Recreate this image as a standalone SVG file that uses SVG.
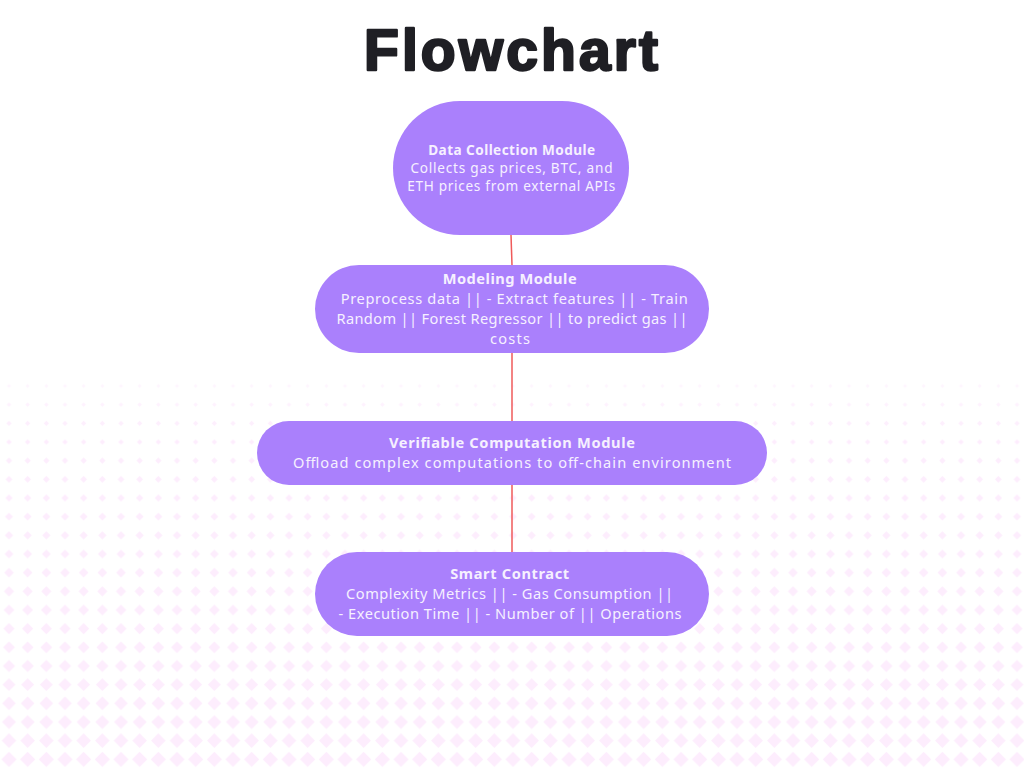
<svg xmlns="http://www.w3.org/2000/svg" width="1024" height="768" viewBox="0 0 1024 768">
<defs>
<style>
.node{fill:#aa80fc}
.t{font-family:"Noto Sans","Open Sans",sans-serif;font-size:14.6px;fill:#f6f0ff;text-anchor:middle}
.s{font-size:13.6px}
.b{font-weight:bold}
.edge{stroke:#ef5a5a;stroke-width:1.5;fill:none}
.title{font-family:"Liberation Sans",Arial,sans-serif;font-weight:bold;font-size:57px;fill:#1f1f24;stroke:#1f1f24;stroke-width:2.4;stroke-linejoin:round;text-anchor:middle}
.bg{fill:#fdedfd}
</style>
<path id="d" d="M0,-1 L1,0 L0,1 L-1,0Z"/>
<pattern id="p0" x="-0.335" y="376.665" width="18.667" height="18.667" patternUnits="userSpaceOnUse"><use href="#d" class="bg" transform="translate(9.335 9.335) scale(2.0)"/></pattern>
<pattern id="p1" x="-0.335" y="395.33" width="18.667" height="18.667" patternUnits="userSpaceOnUse"><use href="#d" class="bg" transform="translate(9.335 9.335) scale(2.3)"/></pattern>
<pattern id="p2" x="-0.335" y="414.0" width="18.667" height="18.667" patternUnits="userSpaceOnUse"><use href="#d" class="bg" transform="translate(9.335 9.335) scale(2.6)"/></pattern>
<pattern id="p3" x="-0.335" y="432.67" width="18.667" height="18.667" patternUnits="userSpaceOnUse"><use href="#d" class="bg" transform="translate(9.335 9.335) scale(2.8)"/></pattern>
<pattern id="p4" x="-0.335" y="451.33" width="18.667" height="18.667" patternUnits="userSpaceOnUse"><use href="#d" class="bg" transform="translate(9.335 9.335) scale(3.1)"/></pattern>
<pattern id="p5" x="-0.335" y="470.0" width="18.667" height="18.667" patternUnits="userSpaceOnUse"><use href="#d" class="bg" transform="translate(9.335 9.335) scale(3.4)"/></pattern>
<pattern id="p6" x="-0.335" y="488.67" width="18.667" height="18.667" patternUnits="userSpaceOnUse"><use href="#d" class="bg" transform="translate(9.335 9.335) scale(3.7)"/></pattern>
<pattern id="p7" x="-0.335" y="507.33" width="18.667" height="18.667" patternUnits="userSpaceOnUse"><use href="#d" class="bg" transform="translate(9.335 9.335) scale(4.0)"/></pattern>
<pattern id="p8" x="-0.335" y="526.0" width="18.667" height="18.667" patternUnits="userSpaceOnUse"><use href="#d" class="bg" transform="translate(9.335 9.335) scale(4.2)"/></pattern>
<pattern id="p9" x="-0.335" y="544.67" width="18.667" height="18.667" patternUnits="userSpaceOnUse"><use href="#d" class="bg" transform="translate(9.335 9.335) scale(4.5)"/></pattern>
<pattern id="p10" x="-0.335" y="563.33" width="18.667" height="18.667" patternUnits="userSpaceOnUse"><use href="#d" class="bg" transform="translate(9.335 9.335) scale(4.8)"/></pattern>
<pattern id="p11" x="-0.335" y="582.0" width="18.667" height="18.667" patternUnits="userSpaceOnUse"><use href="#d" class="bg" transform="translate(9.335 9.335) scale(5.1)"/></pattern>
<pattern id="p12" x="-0.335" y="600.67" width="18.667" height="18.667" patternUnits="userSpaceOnUse"><use href="#d" class="bg" transform="translate(9.335 9.335) scale(5.4)"/></pattern>
<pattern id="p13" x="-0.335" y="619.33" width="18.667" height="18.667" patternUnits="userSpaceOnUse"><use href="#d" class="bg" transform="translate(9.335 9.335) scale(5.6)"/></pattern>
<pattern id="p14" x="-0.335" y="638.0" width="18.667" height="18.667" patternUnits="userSpaceOnUse"><use href="#d" class="bg" transform="translate(9.335 9.335) scale(5.9)"/></pattern>
<pattern id="p15" x="-0.335" y="656.67" width="18.667" height="18.667" patternUnits="userSpaceOnUse"><use href="#d" class="bg" transform="translate(9.335 9.335) scale(6.2)"/></pattern>
<pattern id="p16" x="-0.335" y="675.33" width="18.667" height="18.667" patternUnits="userSpaceOnUse"><use href="#d" class="bg" transform="translate(9.335 9.335) scale(6.5)"/></pattern>
<pattern id="p17" x="-0.335" y="694.0" width="18.667" height="18.667" patternUnits="userSpaceOnUse"><use href="#d" class="bg" transform="translate(9.335 9.335) scale(6.8)"/></pattern>
<pattern id="p18" x="-0.335" y="712.67" width="18.667" height="18.667" patternUnits="userSpaceOnUse"><use href="#d" class="bg" transform="translate(9.335 9.335) scale(7.0)"/></pattern>
<pattern id="p19" x="-0.335" y="731.33" width="18.667" height="18.667" patternUnits="userSpaceOnUse"><use href="#d" class="bg" transform="translate(9.335 9.335) scale(7.3)"/></pattern>
<pattern id="p20" x="-0.335" y="750.0" width="18.667" height="18.667" patternUnits="userSpaceOnUse"><use href="#d" class="bg" transform="translate(9.335 9.335) scale(7.6)"/></pattern>
</defs>
<rect width="1024" height="768" fill="#ffffff"/>
<g id="background">
<rect x="0" y="376.665" width="1024" height="18.667" fill="url(#p0)" opacity="0.6"/>
<rect x="0" y="395.33" width="1024" height="18.667" fill="url(#p1)" opacity="0.75"/>
<rect x="0" y="414.0" width="1024" height="18.667" fill="url(#p2)" opacity="0.9"/>
<rect x="0" y="432.67" width="1024" height="18.667" fill="url(#p3)"/>
<rect x="0" y="451.33" width="1024" height="18.667" fill="url(#p4)"/>
<rect x="0" y="470.0" width="1024" height="18.667" fill="url(#p5)"/>
<rect x="0" y="488.67" width="1024" height="18.667" fill="url(#p6)"/>
<rect x="0" y="507.33" width="1024" height="18.667" fill="url(#p7)"/>
<rect x="0" y="526.0" width="1024" height="18.667" fill="url(#p8)"/>
<rect x="0" y="544.67" width="1024" height="18.667" fill="url(#p9)"/>
<rect x="0" y="563.33" width="1024" height="18.667" fill="url(#p10)"/>
<rect x="0" y="582.0" width="1024" height="18.667" fill="url(#p11)"/>
<rect x="0" y="600.67" width="1024" height="18.667" fill="url(#p12)"/>
<rect x="0" y="619.33" width="1024" height="18.667" fill="url(#p13)"/>
<rect x="0" y="638.0" width="1024" height="18.667" fill="url(#p14)"/>
<rect x="0" y="656.67" width="1024" height="18.667" fill="url(#p15)"/>
<rect x="0" y="675.33" width="1024" height="18.667" fill="url(#p16)"/>
<rect x="0" y="694.0" width="1024" height="18.667" fill="url(#p17)"/>
<rect x="0" y="712.67" width="1024" height="18.667" fill="url(#p18)"/>
<rect x="0" y="731.33" width="1024" height="18.667" fill="url(#p19)"/>
<rect x="0" y="750.0" width="1024" height="18.667" fill="url(#p20)"/>
</g>
<g id="title"><text class="title" x="511" y="70" textLength="294" lengthAdjust="spacing">Flowchart</text></g>
<g id="connectors">
<line class="edge" x1="511" y1="235" x2="512" y2="265"/>
<line class="edge" x1="512" y1="353" x2="512" y2="421"/>
<line class="edge" x1="512" y1="485" x2="512" y2="552"/>
</g>
<g id="n1"><rect class="node" x="393" y="101" width="236" height="134" rx="67" ry="67"/>
<text class="t s b" x="511.7" y="155" textLength="167" lengthAdjust="spacing">Data Collection Module</text>
<text class="t s" x="511.5" y="173" textLength="202" lengthAdjust="spacing">Collects gas prices, BTC, and</text>
<text class="t s" x="511.3" y="191" textLength="208" lengthAdjust="spacing">ETH prices from external APIs</text></g>
<g id="n2"><rect class="node" x="315" y="265" width="394" height="88" rx="44"/>
<text class="t b" x="509.7" y="284" textLength="134" lengthAdjust="spacing">Modeling Module</text>
<text class="t" x="514.2" y="304" textLength="347" lengthAdjust="spacing">Preprocess data || - Extract features || - Train</text>
<text class="t" x="512" y="324" textLength="351" lengthAdjust="spacing">Random || Forest Regressor || to predict gas ||</text>
<text class="t" x="510" y="344" textLength="40" lengthAdjust="spacing">costs</text></g>
<g id="n3"><rect class="node" x="257" y="421" width="510" height="64" rx="32"/>
<text class="t b" x="512" y="448" textLength="246" lengthAdjust="spacing">Verifiable Computation Module</text>
<text class="t" x="512" y="468" textLength="438" lengthAdjust="spacing">Offload complex computations to off-chain environment</text></g>
<g id="n4"><rect class="node" x="315" y="552" width="394" height="84" rx="42"/>
<text class="t b" x="509.7" y="578.7" textLength="119" lengthAdjust="spacing">Smart Contract</text>
<text class="t" x="509.5" y="598.7" textLength="327" lengthAdjust="spacing">Complexity Metrics || - Gas Consumption ||</text>
<text class="t" x="510" y="618.7" textLength="343" lengthAdjust="spacing">- Execution Time || - Number of || Operations</text></g>
</svg>
